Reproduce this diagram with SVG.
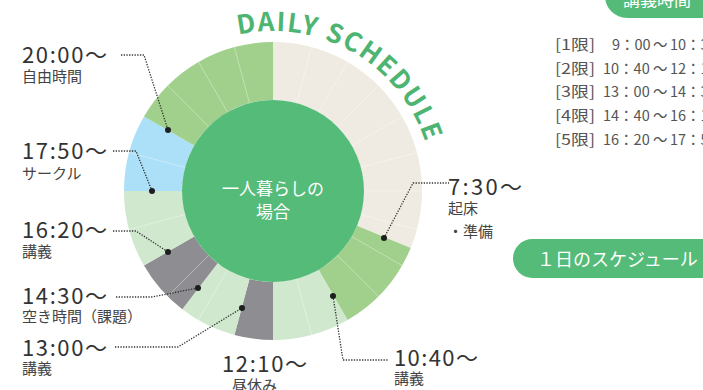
<svg xmlns="http://www.w3.org/2000/svg" width="703" height="390" viewBox="0 0 703 390">
<style>
text{font-family:"Noto Sans CJK JP","Noto Sans",sans-serif;}
.time{font-size:22px;fill:#333;}
.sub{font-size:15px;fill:#444;}
.row{font-size:14.5px;fill:#555;}
.lead{fill:none;stroke:#333;stroke-width:1.3;stroke-dasharray:1.3 1.4;}
.dot{fill:#1e1e1e;}
.tick{stroke:#fff;stroke-opacity:0.4;stroke-width:0.9;}
.beige{fill:#EFEBE2;}
.mid{fill:#A0D08B;}
.light{fill:#CFE8CE;}
.gray{fill:#8E8E92;}
.blue{fill:#ACDFF8;}
.pill{fill:#55BB78;}
</style>
<defs>
<path id="arc" d="M218.28,40.65 A160,160 0 0 1 432.39,177.06"/>
</defs>

<g id="title">
<text font-family="Roboto Condensed,DejaVu Sans Condensed,Roboto,sans-serif" font-weight="bold" font-size="26" fill="#4DB472"><textPath href="#arc" startOffset="21" textLength="236" lengthAdjust="spacing">DAILY SCHEDULE</textPath></text>
</g>

<g id="ring">
<path class="beige" d="M273,42 A149,149 0 0 1 410.66,248.02 L357.07,225.82 A91,91 0 0 0 273,100 Z"/>
<path class="mid" d="M410.66,248.02 A149,149 0 0 1 347.5,320.04 L318.5,269.81 A91,91 0 0 0 357.07,225.82 Z"/>
<path class="light" d="M347.5,320.04 A149,149 0 0 1 273,340 L273,282 A91,91 0 0 0 318.5,269.81 Z"/>
<path class="gray" d="M273,340 A149,149 0 0 1 234.44,334.92 L249.45,278.9 A91,91 0 0 0 273,282 Z"/>
<path class="light" d="M234.44,334.92 A149,149 0 0 1 182.29,309.21 L217.6,263.19 A91,91 0 0 0 249.45,278.9 Z"/>
<path class="gray" d="M182.29,309.21 A149,149 0 0 1 143.96,265.5 L194.19,236.5 A91,91 0 0 0 217.6,263.19 Z"/>
<path class="light" d="M143.96,265.5 A149,149 0 0 1 124,191 L182,191 A91,91 0 0 0 194.19,236.5 Z"/>
<path class="blue" d="M124,191 A149,149 0 0 1 143.96,116.5 L194.19,145.5 A91,91 0 0 0 182,191 Z"/>
<path class="mid" d="M143.96,116.5 A149,149 0 0 1 273,42 L273,100 A91,91 0 0 0 194.19,145.5 Z"/>
<g class="ticks">
<line class="tick" x1="296.55" y1="103.1" x2="311.56" y2="47.08"/>
<line class="tick" x1="318.5" y1="112.19" x2="347.5" y2="61.96"/>
<line class="tick" x1="337.35" y1="126.65" x2="378.36" y2="85.64"/>
<line class="tick" x1="351.81" y1="145.5" x2="402.04" y2="116.5"/>
<line class="tick" x1="360.9" y1="167.45" x2="416.92" y2="152.44"/>
<line class="tick" x1="364" y1="191" x2="422" y2="191"/>
<line class="tick" x1="360.9" y1="214.55" x2="416.92" y2="229.56"/>
<line class="tick" x1="351.81" y1="236.5" x2="402.04" y2="265.5"/>
<line class="tick" x1="337.35" y1="255.35" x2="378.36" y2="296.36"/>
<line class="tick" x1="296.55" y1="278.9" x2="311.56" y2="334.92"/>
<line class="tick" x1="227.5" y1="269.81" x2="198.5" y2="320.04"/>
<line class="tick" x1="208.65" y1="255.35" x2="167.64" y2="296.36"/>
<line class="tick" x1="185.1" y1="214.55" x2="129.08" y2="229.56"/>
<line class="tick" x1="185.1" y1="167.45" x2="129.08" y2="152.44"/>
<line class="tick" x1="208.65" y1="126.65" x2="167.64" y2="85.64"/>
<line class="tick" x1="227.5" y1="112.19" x2="198.5" y2="61.96"/>
<line class="tick" x1="249.45" y1="103.1" x2="234.44" y2="47.08"/>
</g>
</g>

<g id="center">
<circle cx="273" cy="191" r="91" fill="#55BB78"/>
<text x="273" y="195" font-size="17" fill="#fff" text-anchor="middle">一人暮らしの</text>
<text x="273" y="218" font-size="17" fill="#fff" text-anchor="middle">場合</text>
</g>

<g id="connectors">
<path class="lead" d="M121,55 L144,55 L168,130"/>
<path class="lead" d="M113,151 L136,151 L152,191"/>
<path class="lead" d="M113,231 L136,231 L168,252"/>
<path class="lead" d="M116,297 L152,297 L198,288"/>
<path class="lead" d="M115,347 L178,347 L242,308"/>
<path class="lead" d="M333,296 L343,360 L388,360"/>
<path class="lead" d="M384,238 L413,183 L449,183"/>
<circle class="dot" cx="168" cy="130" r="3"/>
<circle class="dot" cx="152" cy="191" r="3"/>
<circle class="dot" cx="168" cy="252" r="3"/>
<circle class="dot" cx="198" cy="288" r="3"/>
<circle class="dot" cx="242" cy="308" r="3"/>
<circle class="dot" cx="333" cy="296" r="3"/>
<circle class="dot" cx="384" cy="238" r="3"/>
</g>

<g id="label-2000">
<text class="time" x="22" y="63" textLength="85" lengthAdjust="spacing">20:00〜</text>
<text class="sub" x="22" y="82">自由時間</text>
</g>
<g id="label-1750">
<text class="time" x="22" y="159" textLength="85" lengthAdjust="spacing">17:50〜</text>
<text class="sub" x="22" y="179">サークル</text>
</g>
<g id="label-1620">
<text class="time" x="22" y="238" textLength="85" lengthAdjust="spacing">16:20〜</text>
<text class="sub" x="22" y="257">講義</text>
</g>
<g id="label-1430">
<text class="time" x="22" y="304" textLength="85" lengthAdjust="spacing">14:30〜</text>
<text class="sub" x="22" y="322">空き時間（課題）</text>
</g>
<g id="label-1300">
<text class="time" x="22" y="356" textLength="85" lengthAdjust="spacing">13:00〜</text>
<text class="sub" x="22" y="374">講義</text>
</g>
<g id="label-1210">
<text class="time" x="222" y="372" textLength="85" lengthAdjust="spacing">12:10〜</text>
<text class="sub" x="232" y="391">昼休み</text>
</g>
<g id="label-1040">
<text class="time" x="394" y="366" textLength="84" lengthAdjust="spacing">10:40〜</text>
<text class="sub" x="394" y="384">講義</text>
</g>
<g id="label-0730">
<text class="time" x="448" y="195" textLength="74" lengthAdjust="spacing">7:30〜</text>
<text class="sub" x="448" y="214">起床</text>
<text class="sub" x="448" y="237">・準備</text>
</g>

<g id="lecture-times">
<rect class="pill" x="605" y="-26" width="130" height="44" rx="22"/>
<text x="623" y="6" font-size="17" fill="#fff">講義時間</text>
<g class="row-1">
<text class="row" x="555" y="50" textLength="40" lengthAdjust="spacingAndGlyphs">[1限]</text>
<text class="row" x="612" y="50">9：00</text><text class="row" x="653" y="50">〜</text><text class="row" x="670" y="50">10：30</text>
</g>
<g class="row-2">
<text class="row" x="555" y="73.5" textLength="40" lengthAdjust="spacingAndGlyphs">[2限]</text>
<text class="row" x="603" y="73.5">10：40</text><text class="row" x="653" y="73.5">〜</text><text class="row" x="670" y="73.5">12：10</text>
</g>
<g class="row-3">
<text class="row" x="555" y="97" textLength="40" lengthAdjust="spacingAndGlyphs">[3限]</text>
<text class="row" x="603" y="97">13：00</text><text class="row" x="653" y="97">〜</text><text class="row" x="670" y="97">14：30</text>
</g>
<g class="row-4">
<text class="row" x="555" y="121" textLength="40" lengthAdjust="spacingAndGlyphs">[4限]</text>
<text class="row" x="603" y="121">14：40</text><text class="row" x="653" y="121">〜</text><text class="row" x="670" y="121">16：10</text>
</g>
<g class="row-5">
<text class="row" x="555" y="144.5" textLength="40" lengthAdjust="spacingAndGlyphs">[5限]</text>
<text class="row" x="603" y="144.5">16：20</text><text class="row" x="653" y="144.5">〜</text><text class="row" x="670" y="144.5">17：50</text>
</g>
</g>

<g id="daily-pill">
<rect class="pill" x="513" y="239" width="220" height="39" rx="19.5"/>
<text x="537" y="266" font-size="18" fill="#fff">１日のスケジュール</text>
</g>
</svg>
